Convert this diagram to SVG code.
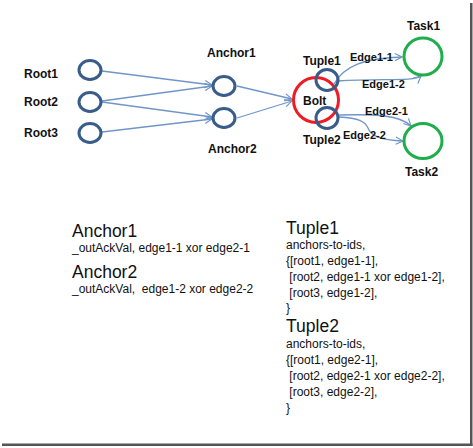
<svg xmlns="http://www.w3.org/2000/svg" width="473" height="448" viewBox="0 0 473 448">
<style>
.bg{fill:#ffffff}
.nb{fill:none;stroke:#385d8a;stroke-width:3}
.nr{fill:none;stroke:#ee1c24;stroke-width:3}
.ng{fill:none;stroke:#1fae4b;stroke-width:3}
.lbl{font-family:"Liberation Sans",Arial,sans-serif;font-weight:bold;font-size:12px;fill:#111}
.elbl{font-family:"Liberation Sans",Arial,sans-serif;font-weight:bold;font-size:11px;fill:#111}
.conn path{fill:none;stroke:#7096c8;stroke-width:1.3;marker-end:url(#arr)}
.t1{font-family:"Liberation Sans",Arial,sans-serif;font-size:17.5px;fill:#111}
.t2{font-family:"Liberation Sans",Arial,sans-serif;font-size:12px;fill:#111;white-space:pre}
</style>
<defs>
<marker id="arr" viewBox="0 0 10 10" refX="9" refY="5" markerWidth="9" markerHeight="9" markerUnits="userSpaceOnUse" orient="auto">
<path d="M1,1 L9,5 L1,9" fill="none" stroke="#7096c8" stroke-width="1.3"/>
</marker>
</defs>
<rect class="bg" x="0" y="0" width="473" height="448"/>
<rect x="470" y="3" width="2.5" height="443" fill="#555"/>
<rect x="2" y="443.5" width="470.5" height="2.5" fill="#555"/>

<g id="connectors" class="conn">
<path d="M102,71 L212,85"/>
<path d="M102,101 L212,86"/>
<path d="M102,102 L212,117"/>
<path d="M102,132 L212,119"/>
<path d="M237,86 L292,99"/>
<path d="M237,118 L292,101"/>
<path d="M334,84 C344,66 364,58 402,57"/>
<path d="M338,81 C380,78 414,82 421,76"/>
<path d="M339,115 C375,114 400,115 411,126"/>
<path d="M339,117 C360,118 365,122 368,128 C371,136 380,140 403,141"/>
</g>

<g id="root1"><ellipse class="nb" cx="90" cy="70" rx="11" ry="9.5"/><text class="lbl" x="24" y="78">Root1</text></g>
<g id="root2"><ellipse class="nb" cx="90" cy="102" rx="11" ry="9.5"/><text class="lbl" x="24" y="106">Root2</text></g>
<g id="root3"><ellipse class="nb" cx="90" cy="133" rx="11" ry="9.5"/><text class="lbl" x="24" y="137">Root3</text></g>
<g id="anchor1"><ellipse class="nb" cx="224" cy="86" rx="11" ry="9.5"/><text class="lbl" x="207" y="57">Anchor1</text></g>
<g id="anchor2"><ellipse class="nb" cx="224" cy="118" rx="11" ry="9.5"/><text class="lbl" x="208" y="153">Anchor2</text></g>
<g id="bolt"><circle class="nr" cx="316" cy="100" r="22.5"/><text class="lbl" x="303" y="105">Bolt</text></g>
<g id="tuple1"><ellipse class="nb" cx="327" cy="80" rx="11" ry="10.5"/><text class="lbl" x="303" y="65">Tuple1</text></g>
<g id="tuple2"><ellipse class="nb" cx="327" cy="118" rx="11" ry="10.5"/><text class="lbl" x="303" y="144">Tuple2</text></g>
<g id="task1"><ellipse class="ng" cx="423" cy="56.5" rx="19" ry="18.5"/><text class="lbl" x="407" y="30">Task1</text></g>
<g id="task2"><ellipse class="ng" cx="423" cy="141" rx="19" ry="17.5"/><text class="lbl" x="405" y="176">Task2</text></g>

<g id="edge-labels">
<text class="elbl" x="350" y="61">Edge1-1</text>
<text class="elbl" x="362" y="88">Edge1-2</text>
<text class="elbl" x="365" y="115">Edge2-1</text>
<text class="elbl" x="343" y="139">Edge2-2</text>
</g>

<g id="anchor-notes">
<text class="t1" x="72" y="237">Anchor1</text>
<text class="t2" x="72" y="252">_outAckVal, edge1-1 xor edge2-1</text>
<text class="t1" x="72" y="278">Anchor2</text>
<text class="t2" x="72" y="293">_outAckVal,  edge1-2 xor edge2-2</text>
</g>

<g id="tuple-notes">
<text class="t1" x="286" y="234">Tuple1</text>
<text class="t2" x="286" y="249">anchors-to-ids,</text>
<text class="t2" x="286" y="265">{[root1, edge1-1],</text>
<text class="t2" x="286" y="281"> [root2, edge1-1 xor edge1-2],</text>
<text class="t2" x="286" y="297"> [root3, edge1-2],</text>
<text class="t2" x="286" y="312">}</text>
<text class="t1" x="286" y="332">Tuple2</text>
<text class="t2" x="286" y="348">anchors-to-ids,</text>
<text class="t2" x="286" y="364">{[root1, edge2-1],</text>
<text class="t2" x="286" y="380"> [root2, edge2-1 xor edge2-2],</text>
<text class="t2" x="286" y="396"> [root3, edge2-2],</text>
<text class="t2" x="286" y="412">}</text>
</g>
</svg>
